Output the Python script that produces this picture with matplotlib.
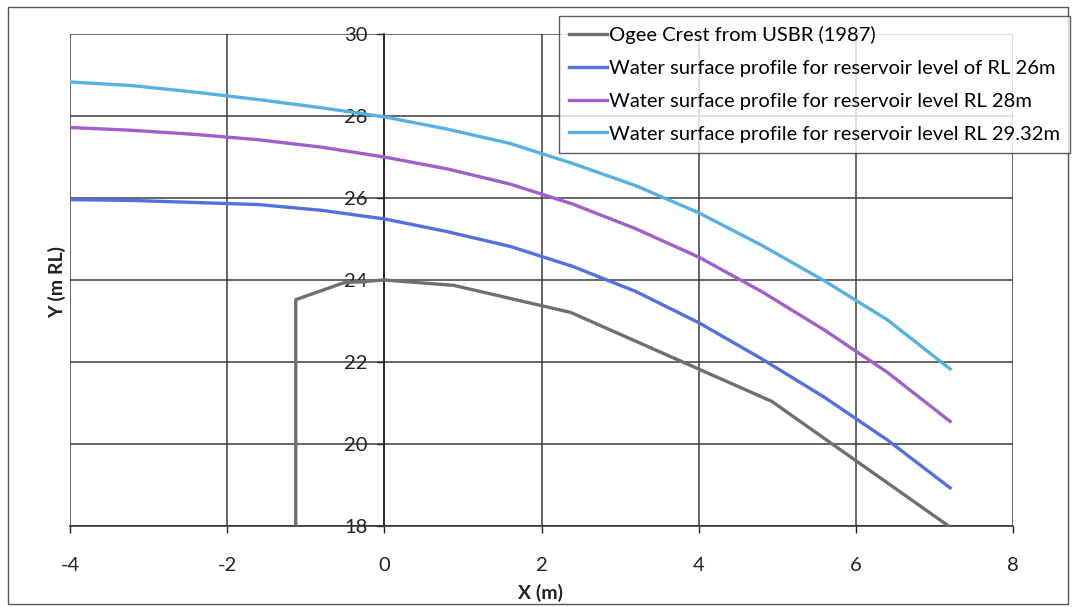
import matplotlib
matplotlib.use("Agg")
import matplotlib.pyplot as plt
from matplotlib.patches import Rectangle

plt.rcParams['font.family'] = ['Lato', 'DejaVu Sans']

# ogee crest shape (x, y in m)
ogee_x = [-1.127, -1.127, -0.52, 0.0, 0.88, 2.37, 4.93, 7.18]
ogee_y = [18.0, 23.52, 23.93, 24.0, 23.87, 23.21, 21.04, 18.0]

# water surface profiles
wsp_x = [-4.0, -3.2, -2.4, -1.6, -0.8, 0.0, 0.8, 1.6, 2.4, 3.2, 4.0, 4.8, 5.6, 6.4, 7.2]
wsp_26 = [25.96, 25.94, 25.89, 25.84, 25.70, 25.49, 25.18, 24.82, 24.33, 23.72,
          22.96, 22.08, 21.14, 20.10, 18.93]
wsp_28 = [27.72, 27.65, 27.55, 27.42, 27.24, 27.00, 26.71, 26.34, 25.85, 25.25,
          24.56, 23.72, 22.78, 21.75, 20.55]
wsp_2932 = [28.83, 28.74, 28.58, 28.40, 28.20, 27.98, 27.68, 27.33, 26.84, 26.30,
            25.64, 24.85, 23.98, 23.03, 21.83]

labels = ["Ogee Crest from USBR (1987)",
          "Water surface profile for reservoir level of RL 26m",
          "Water surface profile for reservoir level RL 28m",
          "Water surface profile for reservoir level RL 29.32m"]
colors = ["#6f6f6f", "#5470dc", "#a25ec9", "#56b0e4"]

xticks = [-4, -2, 0, 2, 4, 6, 8]
yticks = [18, 20, 22, 24, 26, 28, 30]

fig = plt.figure(figsize=(10.74, 6.07), dpi=100)
ax = fig.add_axes([70 / 1074, 1 - 526 / 607, (1013 - 70) / 1074, (526 - 34) / 607])

ax.plot(ogee_x, ogee_y, color=colors[0], lw=2.4, label=labels[0], zorder=3)
ax.plot(wsp_x, wsp_26, color=colors[1], lw=2.4, label=labels[1], zorder=3)
ax.plot(wsp_x, wsp_28, color=colors[2], lw=2.4, label=labels[2], zorder=3)
ax.plot(wsp_x, wsp_2932, color=colors[3], lw=2.4, label=labels[3], zorder=3)

ax.set_xlim(-4, 8)
ax.set_ylim(18, 30)
ax.set_xticks(xticks)
ax.set_yticks(yticks)
ax.grid(True, color="#3c3c3c", lw=1.1)
ax.set_axisbelow(True)

ax.spines['left'].set_position(('data', 0))
ax.spines['left'].set_color('#222222')
ax.spines['left'].set_linewidth(1.2)
ax.spines['bottom'].set_color('#333333')
ax.spines['bottom'].set_linewidth(1.2)
ax.spines['top'].set_visible(False)
ax.spines['right'].set_visible(False)

ax.tick_params(axis='x', direction='out', length=5, width=1, pad=17,
               labelsize=14.5, colors='#222222')
ax.tick_params(axis='y', direction='out', length=5, width=1, pad=7,
               labelsize=14.5, colors='#222222')
ax.set_xticklabels([str(t) for t in xticks])

fig.text(541 / 1074, 1 - 593 / 607, "X (m)", ha='center', va='center',
         fontsize=14, fontweight='bold', color='#222222')
fig.text(57 / 1074, 1 - 282 / 607, "Y (m RL)", ha='center', va='center',
         rotation=90, fontsize=14, fontweight='bold', color='#222222')

leg = fig.legend(loc='upper right', bbox_to_anchor=(1070 / 1074, 1 - 16 / 607),
                 fontsize=14.5, frameon=True, fancybox=False, edgecolor='#333333',
                 handlelength=1.9, handletextpad=0.1, labelspacing=0.78,
                 borderpad=0.5, borderaxespad=0)
leg.get_frame().set_linewidth(1.0)

# outer chart border
fig.patches.append(Rectangle((8 / 1074, 1 - 604 / 607), 1060 / 1074, 597 / 607,
                             transform=fig.transFigure, fill=False,
                             edgecolor='#555555', lw=1.0))

fig.savefig("out.png", dpi=100)
